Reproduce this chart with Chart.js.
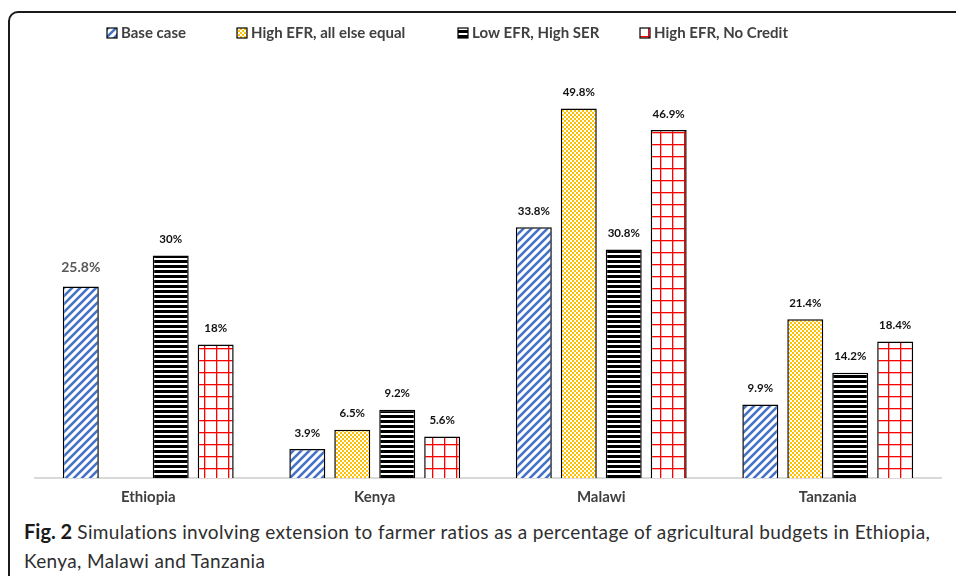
<!DOCTYPE html>
<html>
<head>
<meta charset="utf-8">
<script src="https://cdn.jsdelivr.net/npm/chart.js@4"></script>
<style>
  body { margin: 0; background: #fff; width: 956px; height: 576px; overflow: hidden; position: relative; }
  #frame { position: absolute; left: 8px; top: 11px; width: 960px; height: 580px; border: 2px solid #1a1a1a; border-radius: 10px; box-sizing: border-box; }
  #chart { position: absolute; left: 0; top: 0; }
  #caption { position: absolute; left: 24px; top: 517px; width: 940px; white-space: nowrap; font-family: Lato, "Open Sans", sans-serif; font-size: 19px; letter-spacing: 0.35px; line-height: 29px; color: #2e2e2e; }
  #caption b { color: #1a1a1a; font-size: 20px; letter-spacing: 0; }
</style>
</head>
<body>
<div id="frame"></div>
<canvas id="chart" width="956" height="512"></canvas>
<div id="caption"><b>Fig. 2</b> Simulations involving extension to farmer ratios as a percentage of agricultural budgets in Ethiopia,<br>Kenya, Malawi and Tanzania</div>
<script>
// データ
const countries = ["Ethiopia", "Kenya", "Malawi", "Tanzania"];
const seriesNames = ["Base case", "High EFR, all else equal", "Low EFR, High SER", "High EFR, No Credit"];
const baseCase = [25.8, 3.9, 33.8, 9.9];
const highEfr = [null, 6.5, 49.8, 21.4];
const lowEfrHighSer = [30, 9.2, 30.8, 14.2];
const highEfrNoCredit = [18, 5.6, 46.9, 18.4];

// パターン作成
function makePattern(w, h, draw) {
  const c = document.createElement("canvas");
  c.width = w; c.height = h;
  const g = c.getContext("2d");
  g.fillStyle = "#fff";
  g.fillRect(0, 0, w, h);
  draw(g);
  return document.getElementById("chart").getContext("2d").createPattern(c, "repeat");
}

const diagBlue = makePattern(8, 8, g => {
  g.strokeStyle = "#4472c4";
  g.lineWidth = 2.6;
  g.beginPath();
  for (let k = -1; k <= 1; k++) {
    g.moveTo(k * 8 - 1, 9);
    g.lineTo(k * 8 + 9, -1);
  }
  g.stroke();
});

const checkYellow = makePattern(4, 4, g => {
  g.fillStyle = "#ffc000";
  g.fillRect(0, 0, 2, 2);
  g.fillRect(2, 2, 2, 2);
});

const stripeBlack = makePattern(5, 5, g => {
  g.fillStyle = "#000";
  g.fillRect(0, 0, 5, 3);
});

const gridRed = makePattern(12, 12, g => {
  g.fillStyle = "#ff0000";
  g.fillRect(0, 0, 12, 1.3);
  g.fillRect(0, 0, 1.3, 12);
});

const fills = [diagBlue, checkYellow, stripeBlack, gridRed];
const seriesData = [baseCase, highEfr, lowEfrHighSer, highEfrNoCredit];

// 値ラベル
const valueLabels = {
  id: "valueLabels",
  afterDatasetsDraw(chart) {
    const ctx = chart.ctx;
    ctx.save();
    ctx.textAlign = "center";
    ctx.textBaseline = "middle";
    chart.data.datasets.forEach((ds, i) => {
      chart.getDatasetMeta(i).data.forEach((bar, j) => {
        const v = ds.data[j];
        if (v === null) return;
        if (i === 0 && j === 0) {
          ctx.font = "bold 14px Lato, 'Open Sans', sans-serif";
          ctx.fillStyle = "#595959";
          ctx.fillText(v + "%", bar.x, bar.y - 19);
        } else {
          ctx.font = "bold 11.5px Lato, 'Open Sans', sans-serif";
          ctx.fillStyle = "#111";
          ctx.fillText(v + "%", bar.x, bar.y - 16);
        }
      });
    });
    ctx.restore();
  }
};

// 凡例
const topLegend = {
  id: "topLegend",
  afterDraw(chart) {
    const ctx = chart.ctx;
    const starts = [107, 237, 458, 640];
    ctx.save();
    ctx.font = "bold 15px Lato, 'Open Sans', sans-serif";
    ctx.textBaseline = "middle";
    seriesNames.forEach((name, i) => {
      const x = starts[i];
      ctx.fillStyle = fills[i];
      ctx.fillRect(x, 28, 10, 10);
      ctx.strokeStyle = "#000";
      ctx.lineWidth = 1.2;
      ctx.strokeRect(x, 28, 10, 10);
      ctx.fillStyle = "#404040";
      ctx.fillText(name, x + 14, 33.5);
    });
    ctx.restore();
  }
};

new Chart(document.getElementById("chart"), {
  type: "bar",
  data: {
    labels: countries,
    datasets: seriesNames.map((name, i) => ({
      label: name,
      data: seriesData[i],
      backgroundColor: fills[i],
      borderColor: "#000",
      borderWidth: 1.5,
      barPercentage: 0.8,
      categoryPercentage: 0.794
    }))
  },
  options: {
    responsive: false,
    animation: false,
    layout: { padding: { top: 70, left: 35, right: 15, bottom: 0 } },
    plugins: {
      legend: { display: false },
      tooltip: { enabled: false }
    },
    scales: {
      x: {
        grid: { display: false, drawTicks: false },
        border: { display: true, color: "#d9d9d9", width: 2 },
        ticks: {
          padding: 10,
          color: "#404040",
          font: { family: "Lato, 'Open Sans', sans-serif", size: 15, weight: "bold" }
        },
        afterFit: s => { s.height = 34; }
      },
      y: {
        display: false,
        min: 0,
        max: 55
      }
    }
  },
  plugins: [valueLabels, topLegend]
});
</script>
</body>
</html>
